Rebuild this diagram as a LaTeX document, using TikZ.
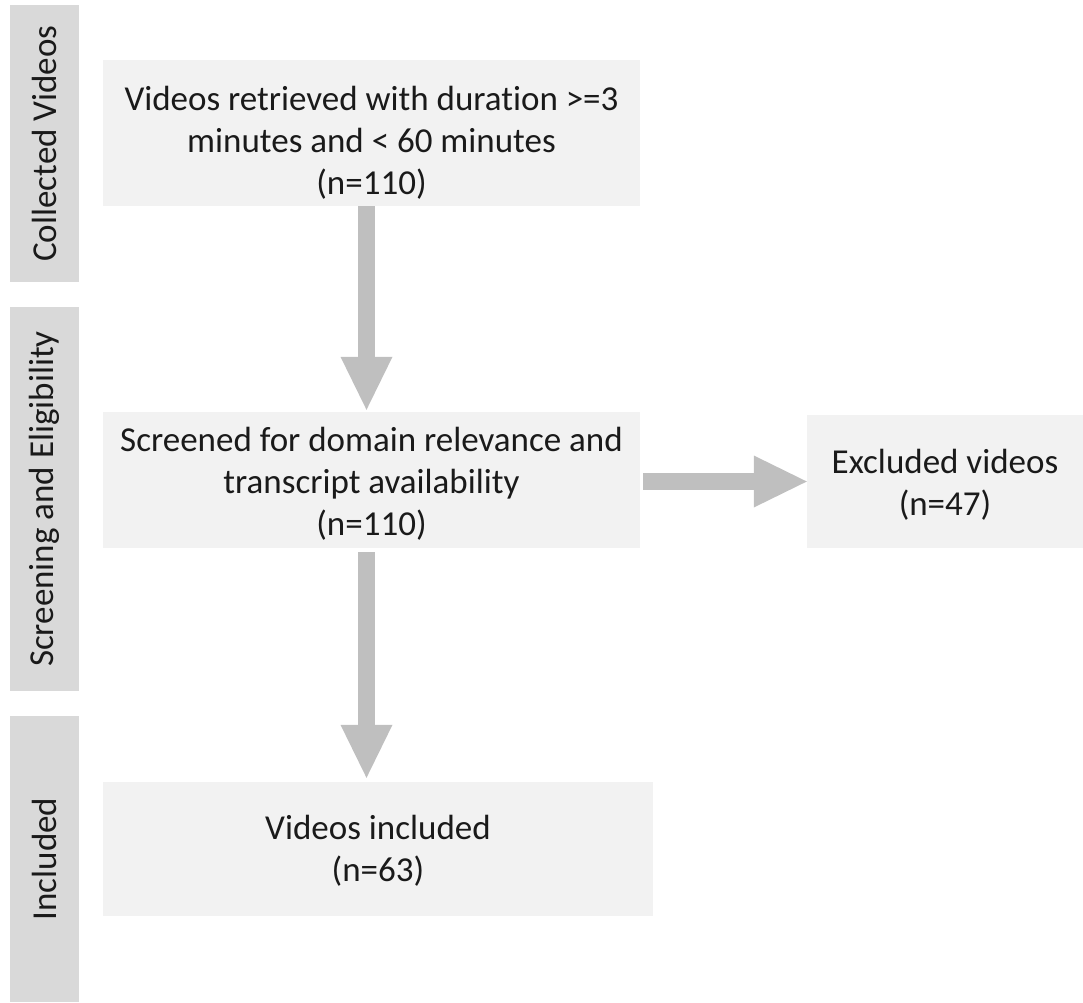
\documentclass[tikz,border=0pt]{standalone}
\usepackage{fontspec}
\setmainfont{Carlito}[Ligatures={NoCommon}]
\usetikzlibrary{arrows.meta}
\definecolor{boxfill}{HTML}{F2F2F2}
\definecolor{barfill}{HTML}{D9D9D9}
\definecolor{arrowgray}{HTML}{BFBFBF}
\definecolor{ink}{HTML}{1A1A1A}
\begin{document}
\begin{tikzpicture}[x=1pt,y=-1pt,
  txt/.style={font=\fontsize{35}{42}\selectfont, text=ink},
  stepbox/.style={fill=boxfill, inner sep=0pt},
  steptext/.style={inner sep=0pt, align=center, txt},
  phase/.style={fill=barfill, inner sep=0pt, minimum height=69pt, rotate=90, txt},
  flow/.style={draw=arrowgray, line width=17pt,
    -{Triangle[width=52pt,length=53pt,line width=0pt]}}]
\useasboundingbox (0,0) rectangle (1083,1002);

% phase bars on the left
\node[phase, minimum width=277pt] (p1) at (44.5,143.5) {Collected Videos};
\node[phase, minimum width=384pt] (p2) at (44.5,499) {Screening and Eligibility};
\node[phase, minimum width=286pt] (p3) at (44.5,859) {Included};

% flow boxes
\node[stepbox, minimum width=537pt, minimum height=146pt] (b1) at (371.5,133) {};
\node[stepbox, minimum width=537pt, minimum height=136pt] (b2) at (371.5,480) {};
\node[stepbox, minimum width=276pt, minimum height=133pt] (ex) at (945,481.5) {};
\node[stepbox, minimum width=550pt, minimum height=134pt] (b3) at (378,849) {};

% box texts
\node[steptext] (t1) at ([yshift=-10pt]b1.center)
  {Videos retrieved with duration >=3\\minutes and < 60 minutes\\(n=110)};
\node[steptext] (t2) at ([yshift=-4pt]b2.center)
  {Screened for domain relevance and\\transcript availability\\(n=110)};
\node[steptext] (tx) at ([yshift=-3pt]ex.center)
  {Excluded videos\\(n=47)};
\node[steptext] (t3) at ([yshift=-2pt]b3.center)
  {Videos included\\(n=63)};

% connectors
\draw[flow] ([xshift=-5pt]b1.south) -- ([xshift=-5pt,yshift=2pt]b2.north);
\draw[flow] ([xshift=3pt]b2.east |- ex.west) -- (ex.west);
\draw[flow] ([xshift=-5pt,yshift=-4pt]b2.south) -- ([xshift=-11.5pt,yshift=4pt]b3.north);
\end{tikzpicture}
\end{document}
